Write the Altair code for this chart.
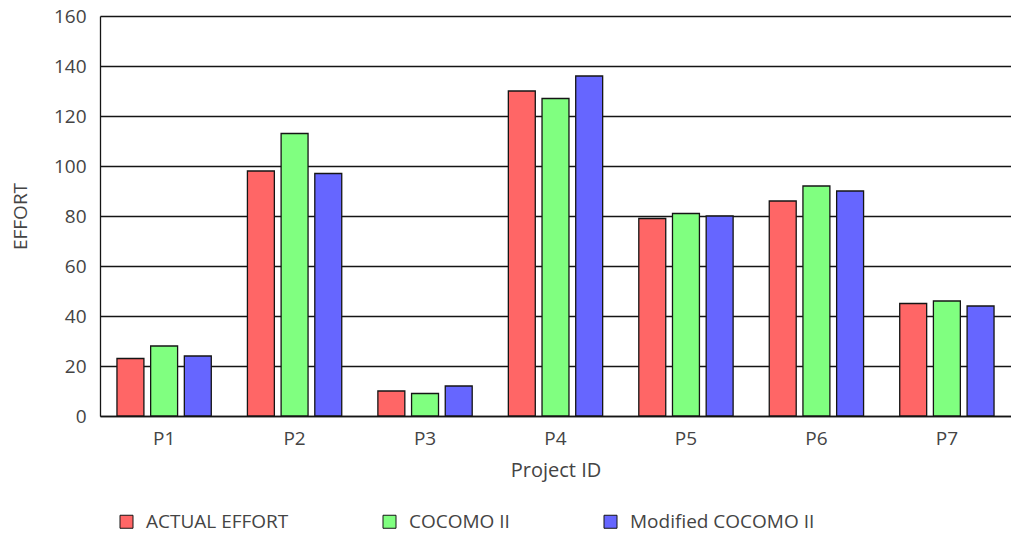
import altair as alt
import pandas as pd

# Effort per project for the actual values and the two estimation models
projects = ["P1", "P2", "P3", "P4", "P5", "P6", "P7"]
actual_effort = [23, 98, 10, 130, 79, 86, 45]
cocomo_ii = [28, 113, 9, 127, 81, 92, 46]
modified_cocomo_ii = [24, 97, 12, 136, 80, 90, 44]

series_names = ["ACTUAL EFFORT", "COCOMO II", "Modified COCOMO II"]
series_colors = ["#FF6666", "#80FF80", "#6666FF"]
y_ticks = [0, 20, 40, 60, 80, 100, 120, 140, 160]

rows = []
for name, values in zip(series_names, [actual_effort, cocomo_ii, modified_cocomo_ii]):
    for project, value in zip(projects, values):
        rows.append({"project": project, "series": name, "effort": value})
df = pd.DataFrame(rows)

FONT = "Open Sans"
TEXT = "#444444"
LINE = "#151515"
LABEL_SIZE = 19
TITLE_SIZE = 20

chart = (
    alt.Chart(df)
    .mark_bar(stroke=LINE, strokeWidth=1.3)
    .encode(
        x=alt.X(
            "project:N",
            sort=projects,
            title="Project ID",
            scale=alt.Scale(paddingInner=0.277, paddingOuter=0.13),
            axis=alt.Axis(
                labelAngle=0,
                ticks=False,
                domain=True,
                domainColor=LINE,
                domainWidth=1.3,
                grid=False,
                labelPadding=13,
                labelFont=FONT,
                labelFontSize=LABEL_SIZE,
                labelColor=TEXT,
                titleFont=FONT,
                titleFontSize=TITLE_SIZE,
                titleFontWeight="normal",
                titleColor=TEXT,
                titleY=54,
                titleBaseline="middle",
            ),
        ),
        xOffset=alt.XOffset(
            "series:N",
            sort=series_names,
            scale=alt.Scale(paddingInner=0.2, paddingOuter=0),
        ),
        y=alt.Y(
            "effort:Q",
            title="EFFORT",
            scale=alt.Scale(domain=[0, 160], nice=False),
            axis=alt.Axis(
                values=y_ticks,
                ticks=False,
                domain=True,
                domainColor=LINE,
                domainWidth=1.3,
                grid=True,
                gridColor=LINE,
                gridWidth=1.3,
                gridOpacity=1,
                labelPadding=14,
                labelFont=FONT,
                labelFontSize=LABEL_SIZE,
                labelColor=TEXT,
                titleFont=FONT,
                titleFontSize=LABEL_SIZE,
                titleFontWeight="normal",
                titleColor=TEXT,
                titleAngle=270,
                titleX=-80,
                titleY=200,
                titleAlign="center",
                titleBaseline="middle",
            ),
        ),
        color=alt.Color(
            "series:N",
            sort=series_names,
            scale=alt.Scale(domain=series_names, range=series_colors),
            legend=alt.Legend(
                orient="none",
                legendX=17,
                legendY=496,
                direction="horizontal",
                title=None,
                symbolType="square",
                symbolSize=169,
                symbolStrokeColor=LINE,
                symbolStrokeWidth=1,
                symbolOpacity=1,
                labelFont=FONT,
                labelFontSize=LABEL_SIZE,
                labelColor=TEXT,
                labelLimit=400,
                labelOffset=10,
                columnPadding=91,
            ),
        ),
    )
    .properties(
        width=911,
        height=400,
        autosize=alt.AutoSizeParams(type="none"),
        padding={"left": 100, "top": 16, "right": 0, "bottom": 121},
        background="white",
    )
    .configure_view(strokeWidth=0)
)

chart.save("out.html", embed_options={"renderer": "svg", "actions": False})
